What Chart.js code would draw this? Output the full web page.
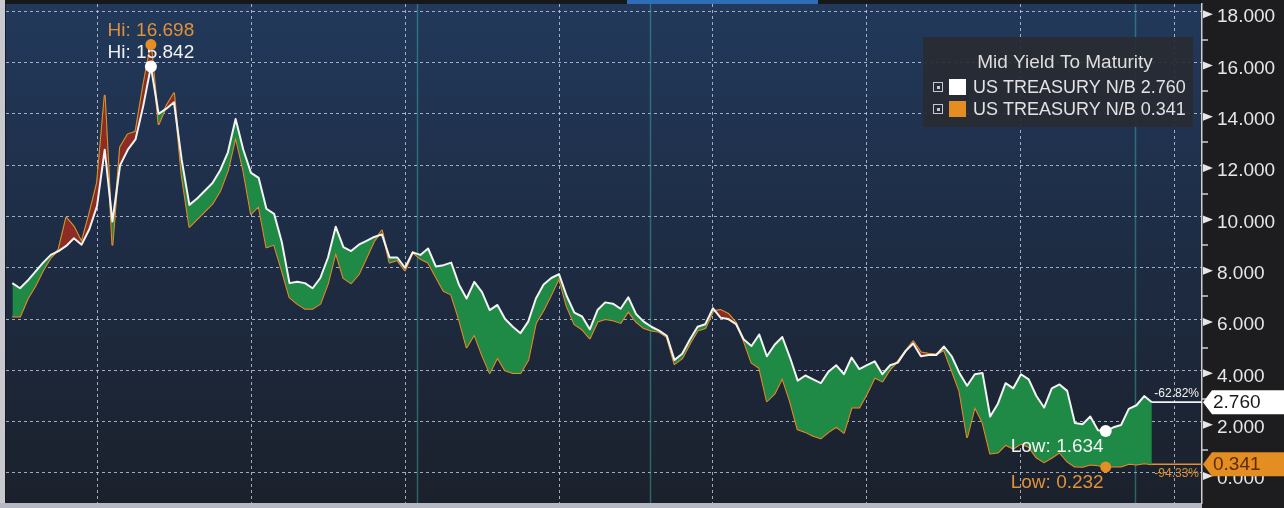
<!DOCTYPE html>
<html><head><meta charset="utf-8">
<script src="https://cdn.jsdelivr.net/npm/chart.js@4.4.1/dist/chart.umd.min.js"></script>
<style>html,body{margin:0;padding:0;background:#1d1d20;overflow:hidden}#wrap{position:relative;width:1284px;height:508px}</style>
</head><body><div id="wrap"><canvas id="c" width="1284" height="508"></canvas></div>
<script>
// ---------- DATA ----------
// quarter-end observation dates, Mar 1977 .. Mar 2014
const dates = [];
for (let yr = 1977; yr <= 2014; yr++) {
  for (const m of ['03', '06', '09', '12']) {
    if (yr === 2014 && m !== '03') break;
    dates.push(yr + '-' + m);
  }
}
// US Treasury 10y (white) – Mid Yield To Maturity
const yield10y = [
  7.40, 7.20, 7.50, 7.85,      // 1977
  8.20, 8.50, 8.65, 8.85,      // 1978
  9.15, 8.90, 9.50, 10.40,     // 1979
  12.60, 9.80, 12.00, 12.60,   // 1980
  13.00, 14.30, 15.842, 14.00, // 1981
  14.20, 14.45, 12.20, 10.45,  // 1982
  10.70, 11.00, 11.30, 11.80,  // 1983
  12.50, 13.80, 12.60, 11.70,  // 1984
  11.50, 10.30, 10.10, 9.00,   // 1985
  7.40, 7.45, 7.40, 7.20,      // 1986
  7.60, 8.40, 9.60, 8.80,      // 1987
  8.65, 8.90, 9.05, 9.20,      // 1988
  9.30, 8.40, 8.40, 8.00,      // 1989
  8.60, 8.50, 8.75, 8.05,      // 1990
  8.10, 8.20, 7.35, 6.80,      // 1991
  7.45, 7.05, 6.35, 6.55,      // 1992
  6.00, 5.70, 5.45, 5.90,      // 1993
  6.80, 7.35, 7.60, 7.75,      // 1994
  6.90, 6.25, 6.10, 5.60,      // 1995
  6.35, 6.65, 6.60, 6.40,      // 1996
  6.85, 6.20, 5.90, 5.70,      // 1997
  5.55, 5.35, 4.40, 4.65,      // 1998
  5.20, 5.70, 5.80, 6.42,      // 1999
  6.05, 6.00, 5.80, 5.20,      // 2000
  4.95, 5.40, 4.55, 5.00,      // 2001
  5.30, 4.50, 3.60, 3.80,      // 2002
  3.65, 3.50, 3.95, 4.20,      // 2003
  3.85, 4.50, 4.05, 4.20,      // 2004
  4.35, 3.85, 4.20, 4.30,      // 2005
  4.75, 5.05, 4.55, 4.60,      // 2006
  4.60, 4.93, 4.55, 3.90,      // 2007
  3.40, 3.85, 3.90, 2.20,      // 2008
  2.70, 3.50, 3.30, 3.85,      // 2009
  3.65, 3.00, 2.55, 3.30,      // 2010
  3.45, 3.20, 1.95, 1.90,      // 2011
  2.20, 1.67, 1.634, 1.78,     // 2012
  1.87, 2.50, 2.64, 3.00,      // 2013
  2.760                        // 2014
];
// US Treasury 2y (orange)
const yield2y = [
  6.10, 6.10, 6.80, 7.30,      // 1977
  7.90, 8.40, 8.70, 9.95,      // 1978
  9.60, 9.00, 10.10, 11.30,    // 1979
  14.70, 8.90, 12.70, 13.20,   // 1980
  13.30, 15.10, 16.698, 13.60, // 1981
  14.30, 14.80, 11.60, 9.60,   // 1982
  9.90, 10.20, 10.50, 11.00,   // 1983
  11.80, 13.10, 11.80, 10.10,  // 1984
  10.40, 8.80, 8.90, 7.90,     // 1985
  6.85, 6.60, 6.40, 6.40,      // 1986
  6.60, 7.40, 8.60, 7.60,      // 1987
  7.40, 7.75, 8.40, 9.05,      // 1988
  9.45, 8.20, 8.30, 7.90,      // 1989
  8.60, 8.35, 8.20, 7.65,      // 1990
  7.10, 6.95, 6.00, 4.90,      // 1991
  5.40, 4.60, 3.90, 4.50,      // 1992
  4.00, 3.90, 3.90, 4.40,      // 1993
  5.85, 6.35, 6.95, 7.60,      // 1994
  6.50, 5.80, 5.60, 5.25,      // 1995
  5.90, 6.00, 5.95, 5.85,      // 1996
  6.30, 5.90, 5.65, 5.55,      // 1997
  5.50, 5.30, 4.25, 4.47,      // 1998
  5.05, 5.55, 5.65, 6.30,      // 1999
  6.35, 6.20, 5.85, 5.15,      // 2000
  4.30, 4.10, 2.80, 3.10,      // 2001
  3.70, 2.80, 1.70, 1.60,      // 2002
  1.45, 1.35, 1.60, 1.80,      // 2003
  1.57, 2.55, 2.55, 3.10,      // 2004
  3.72, 3.57, 4.04, 4.35,      // 2005
  4.75, 5.13, 4.70, 4.65,      // 2006
  4.62, 4.80, 4.00, 3.20,      // 2007
  1.40, 2.57, 1.98, 0.76,      // 2008
  0.80, 1.10, 0.95, 1.14,      // 2009
  1.02, 0.61, 0.42, 0.60,      // 2010
  0.80, 0.45, 0.25, 0.24,      // 2011
  0.33, 0.30, 0.232, 0.25,     // 2012
  0.25, 0.36, 0.33, 0.38,      // 2013
  0.341                        // 2014
];
const seriesNames = ['US TREASURY N/B', 'US TREASURY N/B'];
const pctChange = ['-62.82%', '-94.33%'];
const yTicks = [0, 2, 4, 6, 8, 10, 12, 14, 16, 18];
const yMinorTicks = [1, 3, 5, 7, 9, 11, 13, 15, 17];
const xGridYears = [1980, 1985, 1990, 1995, 2000, 2005, 2010, 2015];
const markerDates = [1990.4, 1997.95, 2013.7];
const legendTitle = 'Mid Yield To Maturity';

// ---------- STYLE ----------
const WHITE = '#f3f3f3', ORANGE = '#e0922c', GREEN = '#1f8a45', RED = '#8c2c22';
const GRID = 'rgba(200,210,226,0.78)';
const FONT = 'Liberation Sans';
Chart.defaults.font.family = FONT;

const toT = d => { const [y, m] = d.split('-').map(Number); return y + m / 12; };
const pts = arr => arr.map((v, i) => ({ x: toT(dates[i]), y: v }));
const fmt = v => v.toFixed(3);

const deco = {
  id: 'deco',
  beforeDraw(chart) {
    const { ctx, chartArea: a, width, height } = chart;
    ctx.save();
    ctx.fillStyle = '#1d1d20'; ctx.fillRect(0, 0, width, height);
    const g = ctx.createLinearGradient(0, a.top, 0, a.bottom);
    g.addColorStop(0, '#22395b'); g.addColorStop(0.45, '#1e2d46'); g.addColorStop(1, '#1b212c');
    ctx.fillStyle = g; ctx.fillRect(a.left, a.top, a.right - a.left, a.bottom - a.top);
    ctx.fillStyle = '#c8c9cf'; ctx.fillRect(0, 0, a.left - 1, height);
    ctx.fillStyle = '#b6b8c3'; ctx.fillRect(0, a.bottom, a.right, height - a.bottom);
    ctx.fillStyle = '#16181c'; ctx.fillRect(a.left, 0, a.right - a.left, a.top);
    ctx.fillStyle = '#2f6eb6'; ctx.fillRect(627, 0, 191, a.top);
    ctx.restore();
  },
  beforeDatasetsDraw(chart) {
    const { ctx, chartArea: a, scales: { x } } = chart;
    ctx.save();
    ctx.strokeStyle = 'rgba(60,170,160,0.5)'; ctx.lineWidth = 1.5;
    markerDates.forEach(t => {
      const px = Math.round(x.getPixelForValue(t)) + 0.5;
      ctx.beginPath(); ctx.moveTo(px, a.top); ctx.lineTo(px, a.bottom); ctx.stroke();
    });
    ctx.restore();
  },
  afterDatasetsDraw(chart) {
    const { ctx, chartArea: a, scales: { x, y } } = chart;
    const series = [yield10y, yield2y];
    const cols = [WHITE, ORANGE];
    ctx.save();
    series.forEach((s, k) => {
      const n = s.length - 1;
      const px = x.getPixelForValue(toT(dates[n]));
      const py = y.getPixelForValue(s[n]);
      ctx.strokeStyle = cols[k]; ctx.lineWidth = 1.6;
      ctx.beginPath(); ctx.moveTo(px, py); ctx.lineTo(a.right, py); ctx.stroke();
      ctx.font = '12px ' + FONT; ctx.fillStyle = cols[k]; ctx.textAlign = 'right';
      ctx.textBaseline = 'middle';
      ctx.fillText(pctChange[k], a.right - 3, k === 0 ? py - 8 : py + 9);
    });
    series.forEach((s, k) => {
      let hi = 0, lo = 0;
      s.forEach((v, i) => { if (v > s[hi]) hi = i; if (v < s[lo]) lo = i; });
      ctx.font = '19px ' + FONT; ctx.textBaseline = 'middle';
      const hx = x.getPixelForValue(toT(dates[hi])), hy = y.getPixelForValue(s[hi]);
      const lx = x.getPixelForValue(toT(dates[lo])), ly = y.getPixelForValue(s[lo]);
      ctx.fillStyle = k === 0 ? '#ffffff' : '#e58f22';
      const r = k === 0 ? 6 : 5.5;
      ctx.beginPath(); ctx.arc(hx, hy, r, 0, Math.PI * 2); ctx.fill();
      ctx.beginPath(); ctx.arc(lx, ly, r, 0, Math.PI * 2); ctx.fill();
      ctx.fillStyle = k === 0 ? '#f2f2f2' : '#e0913a';
      ctx.textAlign = 'center';
      ctx.fillText('Hi: ' + fmt(s[hi]), hx, hy - 14);
      ctx.textAlign = 'right';
      ctx.fillText('Low: ' + fmt(s[lo]), lx - 2, ly + 16);
    });
    ctx.restore();
  },
  afterDraw(chart) {
    const { ctx, chartArea: a, scales: { y }, width } = chart;
    ctx.save();
    ctx.fillStyle = '#e6e6e6';
    yTicks.forEach(v => {
      const py = y.getPixelForValue(v) + 3;
      ctx.beginPath(); ctx.moveTo(a.right + 1, py - 4); ctx.lineTo(a.right + 11, py); ctx.lineTo(a.right + 1, py + 4); ctx.closePath(); ctx.fill();
    });
    ctx.strokeStyle = '#d0d0d0'; ctx.lineWidth = 1.5;
    yMinorTicks.forEach(v => {
      const py = Math.round(y.getPixelForValue(v) + 3);
      ctx.beginPath(); ctx.moveTo(a.right, py); ctx.lineTo(a.right + 6, py); ctx.stroke();
    });
    const tags = [
      { v: yield10y[yield10y.length - 1], fill: '#ffffff', text: '#1b1b1b' },
      { v: yield2y[yield2y.length - 1], fill: '#e38d22', text: '#5a2c00' }
    ];
    tags.forEach(tg => {
      const py = y.getPixelForValue(tg.v);
      ctx.fillStyle = tg.fill;
      ctx.beginPath();
      ctx.moveTo(a.right + 1, py);
      ctx.lineTo(a.right + 10, py - 12);
      ctx.lineTo(width, py - 12);
      ctx.lineTo(width, py + 12);
      ctx.lineTo(a.right + 10, py + 12);
      ctx.closePath(); ctx.fill();
      ctx.fillStyle = tg.text; ctx.font = '19px ' + FONT;
      ctx.textAlign = 'left'; ctx.textBaseline = 'middle';
      ctx.fillText(fmt(tg.v), a.right + 11, py + 1);
    });
    const L = { x: 923, y: 37, w: 270, h: 90 };
    ctx.fillStyle = 'rgba(40,43,51,0.93)';
    ctx.fillRect(L.x, L.y, L.w, L.h);
    ctx.fillStyle = '#dedede'; ctx.font = '19px ' + FONT;
    ctx.textAlign = 'center'; ctx.textBaseline = 'middle';
    ctx.fillText(legendTitle, L.x + 142, L.y + 26);
    const sw = ['#ffffff', '#e38d22'];
    const last = [yield10y[yield10y.length - 1], yield2y[yield2y.length - 1]];
    [0, 1].forEach(k => {
      const cy = L.y + 50 + k * 22;
      ctx.strokeStyle = '#c4c8ce'; ctx.lineWidth = 1;
      ctx.strokeRect(L.x + 10.5, cy - 4.5, 9, 9);
      ctx.fillStyle = '#c4c8ce'; ctx.fillRect(L.x + 14, cy - 1, 3, 3);
      ctx.fillStyle = sw[k]; ctx.fillRect(L.x + 26, cy - 8, 17, 16);
      ctx.fillStyle = '#e2e2e2'; ctx.font = '18px ' + FONT; ctx.textAlign = 'left';
      ctx.fillText(seriesNames[k] + ' ' + fmt(last[k]), L.x + 50, cy + 1);
    });
    ctx.restore();
  }
};

new Chart(document.getElementById('c'), {
  type: 'line',
  data: {
    datasets: [
      { label: seriesNames[0], data: pts(yield10y), borderColor: WHITE, borderWidth: 2, pointRadius: 0,
        tension: 0, borderJoinStyle: 'round', fill: { target: 1, above: GREEN, below: RED } },
      { label: seriesNames[1], data: pts(yield2y), borderColor: ORANGE, borderWidth: 2, pointRadius: 0,
        tension: 0, borderJoinStyle: 'round', fill: false }
    ]
  },
  options: {
    responsive: false, animation: false, devicePixelRatio: 1,
    layout: { autoPadding: false, padding: { left: 6, top: 4, right: 0, bottom: 5 } },
    plugins: { legend: { display: false }, tooltip: { enabled: false } },
    scales: {
      x: {
        type: 'linear', min: 1977.045, max: 2015.877,
        grid: { color: GRID, lineWidth: 1, drawTicks: false },
        border: { display: false, dash: [3, 3] },
        ticks: { display: false },
        afterBuildTicks(s) { s.ticks = xGridYears.map(v => ({ value: v })); },
        afterFit(s) { s.height = 0; s.paddingLeft = 0; s.paddingRight = 0; }
      },
      y: {
        position: 'right', min: -1.17, max: 18.28,
        grid: { color: GRID, lineWidth: 1, drawTicks: false },
        border: { display: true, color: '#cfcfcf', width: 1.5, dash: [3, 3] },
        ticks: { color: '#e6e6e6', font: { size: 19, family: FONT }, padding: 15, labelOffset: 6,
          callback: v => Number(v).toFixed(3) },
        afterBuildTicks(s) { s.ticks = yTicks.map(v => ({ value: v })); },
        afterFit(s) { s.width = 82; s.paddingTop = 0; s.paddingBottom = 0; }
      }
    }
  },
  plugins: [deco]
});
</script>
</body></html>
